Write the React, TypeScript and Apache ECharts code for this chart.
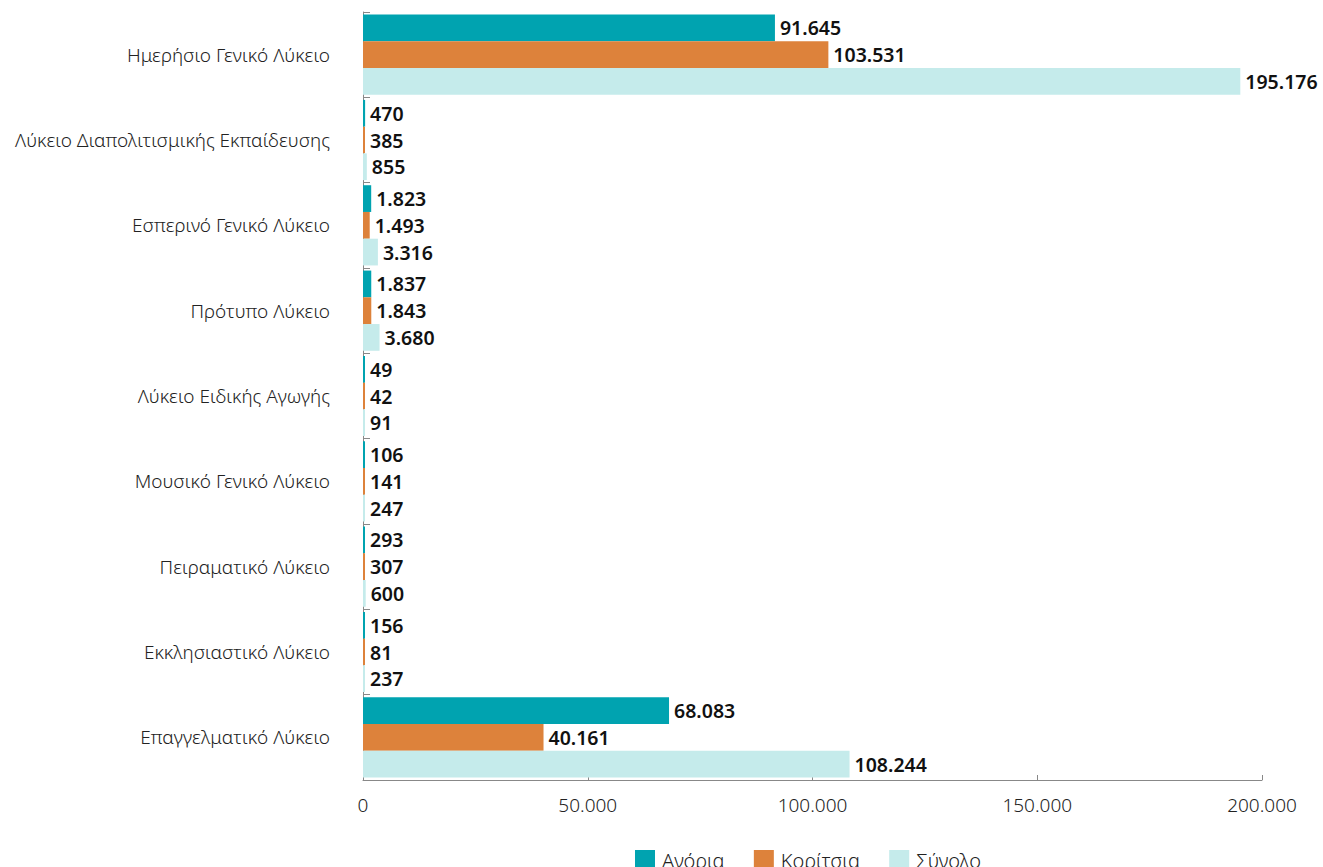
import React, { useEffect, useRef } from "react";
import * as echarts from "echarts";

const categories = [
  "Ημερήσιο Γενικό Λύκειο",
  "Λύκειο Διαπολιτισμικής Εκπαίδευσης",
  "Εσπερινό Γενικό Λύκειο",
  "Πρότυπο Λύκειο",
  "Λύκειο Ειδικής Αγωγής",
  "Μουσικό Γενικό Λύκειο",
  "Πειραματικό Λύκειο",
  "Εκκλησιαστικό Λύκειο",
  "Επαγγελματικό Λύκειο",
];
const boys = [91645, 470, 1823, 1837, 49, 106, 293, 156, 68083];
const girls = [103531, 385, 1493, 1843, 42, 141, 307, 81, 40161];
const total = [195176, 855, 3316, 3680, 91, 247, 600, 237, 108244];
const seriesNames = ["Αγόρια", "Κορίτσια", "Σύνολο"];
const colors = ["#00A3B0", "#DD823B", "#C5EBEB"];

const fmt = (v: number) => String(v).replace(/\B(?=(\d{3})+(?!\d))/g, ".");

export default function App() {
  const ref = useRef<HTMLDivElement>(null);
  useEffect(() => {
    if (!ref.current) return;
    const chart = echarts.init(ref.current, null, { renderer: "svg" });
    const font = "'Noto Sans', 'Open Sans', sans-serif";
    const label = {
      show: true,
      position: "right",
      distance: 5,
      color: "#111",
      fontWeight: 600,
      fontSize: 19.5,
      fontFamily: font,
      formatter: (p: any) => fmt(p.value),
    };
    chart.setOption({
      animation: false,
      color: colors,
      grid: { left: 363, right: 61, top: 12, bottom: 87, containLabel: false },
      legend: {
        bottom: -8,
        left: 630,
        itemWidth: 20,
        itemHeight: 20,
        itemGap: 29,
        icon: "rect",
        textStyle: { fontSize: 20, color: "#222", fontFamily: font, fontWeight: 300, padding: [0, 0, 0, 2] },
        data: seriesNames,
      },
      xAxis: {
        type: "value",
        min: 0,
        max: 200000,
        interval: 50000,
        splitLine: { show: false },
        axisLine: { show: true, lineStyle: { color: "#888" } },
        axisTick: { show: true, inside: true, length: 5, lineStyle: { color: "#888" } },
        axisLabel: { fontSize: 19, color: "#222", fontFamily: font, fontWeight: 300, margin: 15, formatter: (v: number) => fmt(v) },
      },
      yAxis: {
        type: "category",
        inverse: true,
        data: categories,
        axisLine: { show: true, lineStyle: { color: "#888" } },
        axisTick: { show: true, inside: true, length: 7, lineStyle: { color: "#888" } },
        axisLabel: { fontSize: 19, color: "#222", fontFamily: font, fontWeight: 300, margin: 33 },
      },
      series: [boys, girls, total].map((d, i) => ({
        name: seriesNames[i],
        type: "bar",
        data: d,
        barGap: "0%",
        barCategoryGap: "6%",
        barMinHeight: 2,
        label,
      })),
    });
    return () => chart.dispose();
  }, []);
  return <div ref={ref} style={{ width: 1323, height: 867, position: "absolute", left: 0, top: 0 }} />;
}
